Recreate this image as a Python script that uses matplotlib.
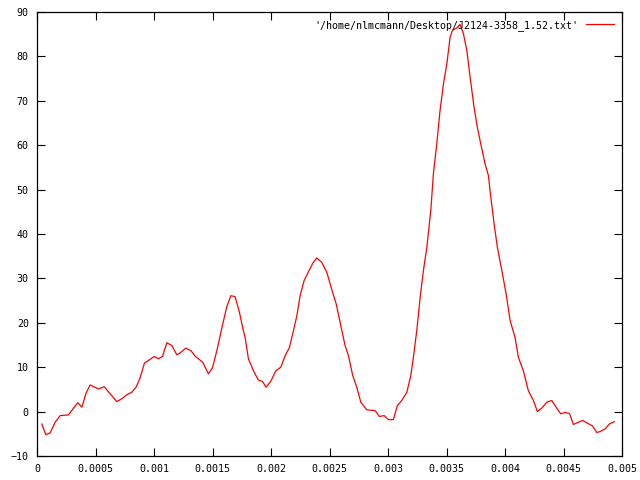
import numpy as np
import matplotlib.pyplot as plt

# time (s) and amplitude
t = [0.00004, 0.000074, 0.000111, 0.000154, 0.000197, 0.000268, 0.00031, 0.000348,
     0.000382, 0.000419, 0.000453, 0.000524, 0.000573, 0.000624, 0.000681, 0.000724,
     0.000767, 0.000809, 0.000846, 0.00088, 0.000917, 0.000951, 0.001, 0.001037,
     0.001071, 0.001109, 0.001151, 0.001194, 0.001222, 0.001271, 0.001316, 0.00135,
     0.001416, 0.001464, 0.001498, 0.001536, 0.001587, 0.001621, 0.001656, 0.001692,
     0.001729, 0.001763, 0.001778, 0.001806, 0.001849, 0.001891, 0.001926, 0.001957,
     0.001997, 0.00204, 0.002083, 0.00212, 0.002156, 0.002191, 0.00222, 0.002248,
     0.002282, 0.002325, 0.002356, 0.002391, 0.002433, 0.002476, 0.002513, 0.002556,
     0.00259, 0.002632, 0.002661, 0.002698, 0.002732, 0.002767, 0.002818, 0.002889,
     0.002926, 0.002966, 0.003003, 0.003045, 0.003079, 0.003117, 0.00316, 0.003194,
     0.003216, 0.003245, 0.003274, 0.003302, 0.003331, 0.003365, 0.003387, 0.003416,
     0.003444, 0.003473, 0.003502, 0.00353, 0.00355, 0.003587, 0.003615, 0.003644,
     0.003673, 0.003701, 0.003735, 0.003763, 0.003792, 0.003829, 0.003857, 0.003878,
     0.003906, 0.003934, 0.003972, 0.004009, 0.004043, 0.004085, 0.004114, 0.004156,
     0.004199, 0.004242, 0.004276, 0.004314, 0.004356, 0.004399, 0.004436, 0.004476,
     0.004513, 0.00455, 0.004584, 0.004626, 0.004664, 0.004703, 0.004746, 0.004784,
     0.004812, 0.004855, 0.004891, 0.004934]
amp = [-2.8, -5.2, -4.8, -2.4, -0.9, -0.75, 0.75, 2.0,
       1.0, 4.2, 6.0, 5.1, 5.6, 4.0, 2.25, 2.9,
       3.8, 4.35, 5.5, 7.6, 10.9, 11.5, 12.4, 11.9,
       12.4, 15.5, 14.9, 12.8, 13.2, 14.3, 13.7, 12.5,
       11.1, 8.5, 9.8, 13.7, 19.75, 23.6, 26.1, 25.9,
       22.4, 18.2, 16.7, 11.9, 9.2, 7.1, 6.8, 5.5,
       6.8, 9.2, 10.0, 12.6, 14.4, 18.2, 21.6, 26.1,
       29.5, 31.8, 33.4, 34.6, 33.6, 31.4, 28.0, 24.3,
       20.1, 14.9, 12.6, 8.1, 5.5, 2.1, 0.4, 0.2,
       -1.1, -0.9, -1.8, -1.8, 1.35, 2.5, 4.35, 8.1,
       12.2, 18.2, 25.7, 31.8, 37.0, 45.3, 53.5, 60.3,
       67.8, 73.8, 78.3, 84.3, 85.9, 86.4, 87.2, 85.1,
       81.3, 75.3, 68.5, 64.0, 60.3, 55.8, 53.2, 48.3,
       42.3, 37.0, 31.8, 26.5, 20.5, 16.7, 12.2, 9.2,
       4.7, 2.5, 0.0, 0.8, 2.1, 2.5, 1.0, -0.5,
       -0.2, -0.4, -2.9, -2.4, -2.0, -2.6, -3.2, -4.7,
       -4.5, -3.9, -2.8, -2.25]

xticks = [0, 0.0005, 0.001, 0.0015, 0.002, 0.0025, 0.003, 0.0035, 0.004, 0.0045, 0.005]
xticklabels = ["0", "0.0005", "0.001", "0.0015", "0.002", "0.0025", "0.003",
               "0.0035", "0.004", "0.0045", "0.005"]
yticks = list(range(-10, 91, 10))

plt.rcParams["font.family"] = "DejaVu Sans Mono"
plt.rcParams["font.size"] = 7.2

fig = plt.figure(figsize=(6.4, 4.8), dpi=100)
ax = fig.add_axes([0.058, 0.05, 0.914, 0.925])

ax.plot(t, amp, color="red", lw=0.9,
        label="'/home/nlmcmann/Desktop/J2124-3358_1.52.txt'")

ax.set_xlim(0, 0.005)
ax.set_ylim(-10, 90)
ax.set_xticks(xticks)
ax.set_xticklabels(xticklabels)
ax.set_yticks(yticks)

ax.tick_params(direction="in", top=True, right=True, length=6, width=0.8,
               pad=6, colors="black")
for s in ax.spines.values():
    s.set_linewidth(0.9)

ax.legend(loc="upper right", frameon=False, markerfirst=False,
          handlelength=2.8, borderaxespad=0.4, handletextpad=0.8)

fig.savefig("out.png", dpi=100)
